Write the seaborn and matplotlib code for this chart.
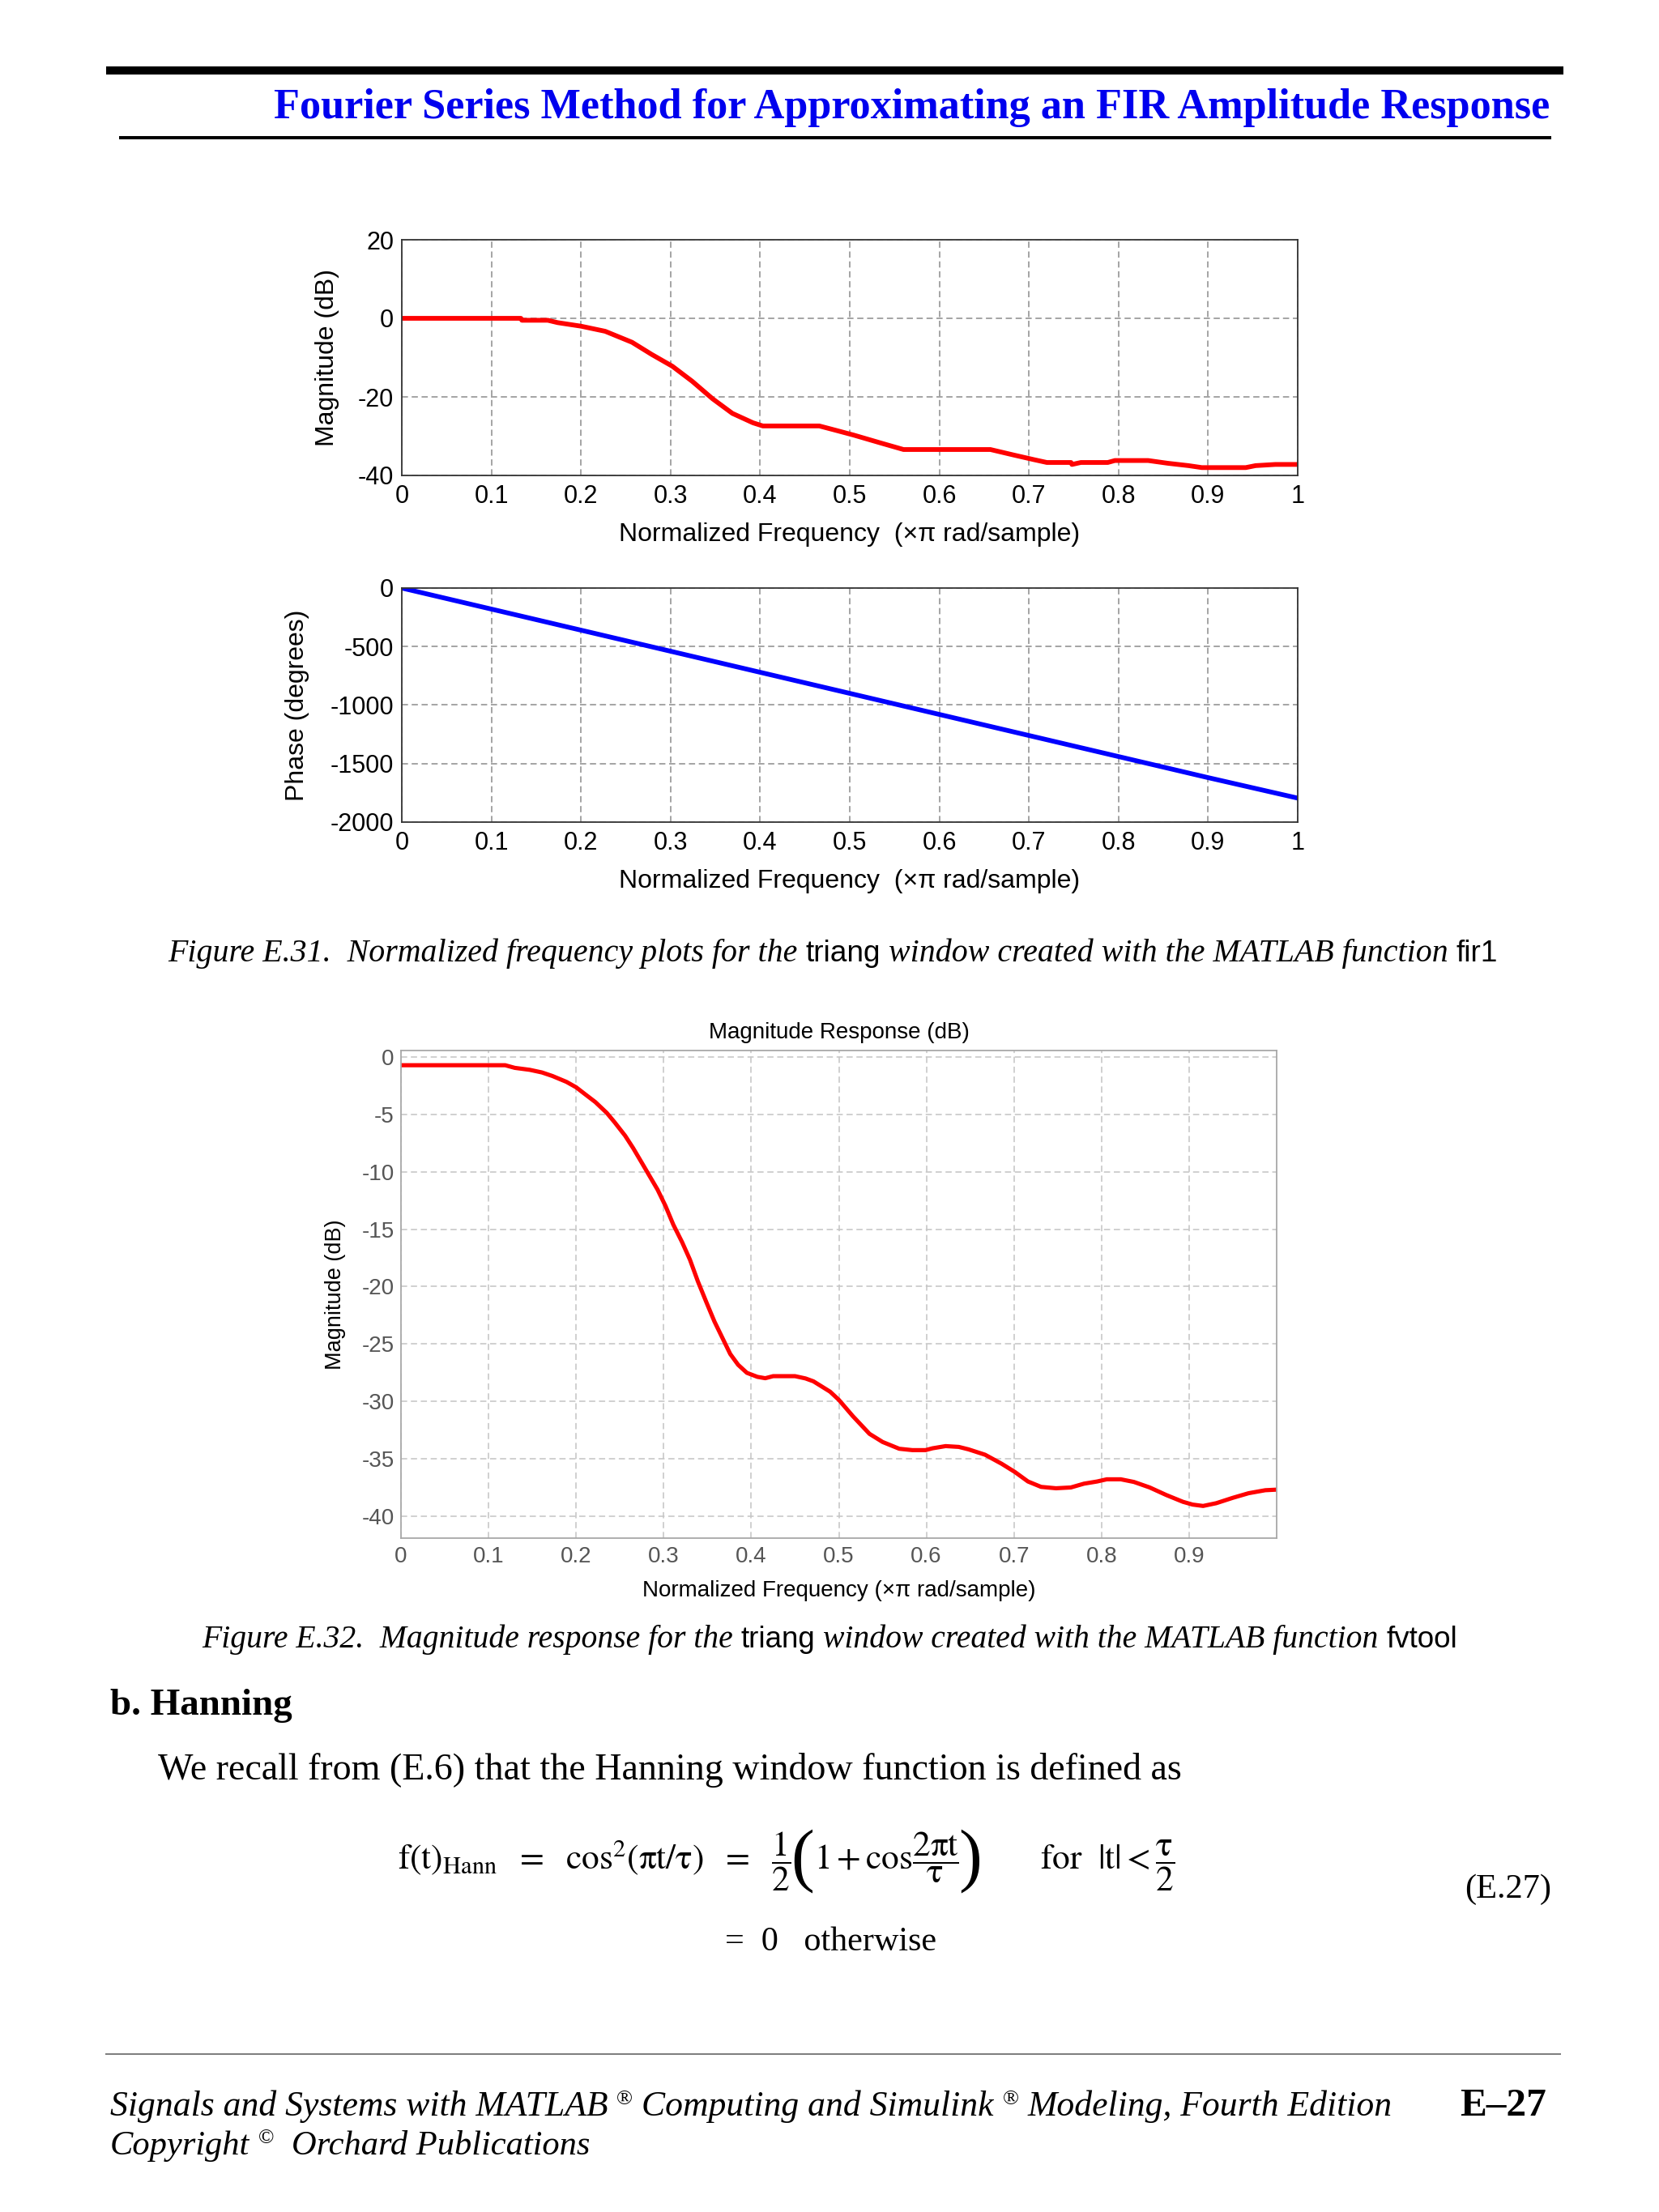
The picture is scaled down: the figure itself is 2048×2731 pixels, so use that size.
import matplotlib
matplotlib.use("Agg")
import matplotlib.pyplot as plt
from matplotlib.lines import Line2D
import numpy as np
import pandas as pd
import seaborn as sns

W, H = 2048, 2731

# ---------------- data ----------------
freq_ticks = [0, 0.1, 0.2, 0.3, 0.4, 0.5, 0.6, 0.7, 0.8, 0.9, 1.0]
freq_tick_labels = ["0", "0.1", "0.2", "0.3", "0.4", "0.5", "0.6", "0.7", "0.8", "0.9", "1"]

# Figure E.31 top: magnitude (dB)
mag1_freq = [0, 0.05, 0.10, 0.133, 0.134, 0.163, 0.174, 0.2, 0.227, 0.257, 0.279,
             0.302, 0.324, 0.347, 0.369, 0.392, 0.403, 0.466, 0.481, 0.504, 0.534,
             0.56, 0.657, 0.683, 0.706, 0.72, 0.747, 0.748, 0.758, 0.788, 0.796,
             0.833, 0.855, 0.878, 0.893, 0.942, 0.953, 0.975, 1.0]
mag1_db = [0, 0, 0, 0, -0.5, -0.5, -1.1, -2.0, -3.3, -6.1, -9.2,
           -12.2, -16.0, -20.5, -24.2, -26.6, -27.4, -27.4, -28.3, -29.7, -31.7,
           -33.4, -33.4, -34.8, -36.0, -36.7, -36.7, -37.2, -36.7, -36.7, -36.2,
           -36.2, -36.9, -37.5, -38.0, -38.0, -37.5, -37.2, -37.2]
mag1_yticks = [20, 0, -20, -40]
mag1_yticklabels = ["20", "0", "-20", "-40"]

# Figure E.31 bottom: phase (degrees)
phase_freq = [0, 0.1, 0.2, 0.3, 0.4, 0.5, 0.6, 0.7, 0.8, 0.9, 1.0]
phase_deg = [0, -180, -360, -540, -720, -900, -1080, -1260, -1440, -1620, -1795]
phase_yticks = [0, -500, -1000, -1500, -2000]
phase_yticklabels = ["0", "-500", "-1000", "-1500", "-2000"]

# Figure E.32: fvtool magnitude response (dB)
mag3_freq = [0, 0.05, 0.119, 0.130, 0.147, 0.161, 0.173, 0.189, 0.200, 0.210, 0.222,
             0.235, 0.244, 0.256, 0.265, 0.275, 0.284, 0.293, 0.302, 0.311, 0.321,
             0.330, 0.339, 0.349, 0.358, 0.367, 0.376, 0.385, 0.395, 0.407, 0.416,
             0.425, 0.450, 0.462, 0.471, 0.490, 0.500, 0.516, 0.535, 0.550, 0.569,
             0.584, 0.599, 0.607, 0.622, 0.637, 0.648, 0.667, 0.686, 0.701, 0.716,
             0.731, 0.748, 0.765, 0.780, 0.795, 0.806, 0.822, 0.837, 0.855, 0.874,
             0.893, 0.904, 0.916, 0.931, 0.950, 0.968, 0.987, 1.0]
mag3_db = [-0.73, -0.73, -0.73, -0.96, -1.13, -1.36, -1.67, -2.18, -2.65, -3.24, -3.94,
           -4.88, -5.70, -6.87, -7.93, -9.22, -10.39, -11.56, -12.97, -14.61, -16.13,
           -17.66, -19.54, -21.41, -23.05, -24.46, -25.87, -26.81, -27.51, -27.86, -27.98,
           -27.80, -27.80, -28.00, -28.25, -29.15, -29.86, -31.28, -32.82, -33.53, -34.12,
           -34.24, -34.24, -34.08, -33.89, -33.96, -34.17, -34.64, -35.43, -36.14, -36.97,
           -37.44, -37.56, -37.49, -37.16, -36.97, -36.78, -36.78, -37.01, -37.49, -38.15,
           -38.74, -38.98, -39.10, -38.86, -38.39, -37.99, -37.73, -37.68]
mag3_yticks = [0, -5, -10, -15, -20, -25, -30, -35, -40]
mag3_yticklabels = ["0", "-5", "-10", "-15", "-20", "-25", "-30", "-35", "-40"]
mag3_xticks = [0, 0.1, 0.2, 0.3, 0.4, 0.5, 0.6, 0.7, 0.8, 0.9]
mag3_xticklabels = ["0", "0.1", "0.2", "0.3", "0.4", "0.5", "0.6", "0.7", "0.8", "0.9"]

# ---------------- style ----------------
sns.set_theme(style="whitegrid")
plt.rcParams['font.family'] = ['Liberation Sans', 'DejaVu Sans']
plt.rcParams['axes.unicode_minus'] = False
plt.rcParams['mathtext.fontset'] = 'stix'

fig = plt.figure(figsize=(W / 100, H / 100), dpi=100)
fig.patch.set_facecolor('white')
renderer = fig.canvas.get_renderer()

SERIF = ['Liberation Serif', 'DejaVu Serif']
SANS = ['Liberation Sans', 'DejaVu Sans']


def fx(x):
    return x / W


def fy(y):
    return 1 - y / H


def hline(x0, x1, y, lw, color):
    fig.add_artist(Line2D([fx(x0), fx(x1)], [fy(y), fy(y)], transform=fig.transFigure,
                          color=color, linewidth=lw, solid_capstyle='butt'))


def text_w(s, fs, props):
    t = fig.text(0, 0, s, fontsize=fs, **props)
    w = t.get_window_extent(renderer).width
    t.remove()
    return w


def run_width(runs, scale):
    total = 0
    parts = []
    for s, props, size, dy in runs:
        fs = size * scale
        core = s.strip(' ')
        lead = len(s) - len(s.lstrip(' '))
        trail = len(s) - len(s.rstrip(' '))
        sp = text_w("x x", fs, props) - text_w("xx", fs, props)
        w = text_w(core, fs, props) if core else 0
        parts.append((core, props, fs, dy, lead * sp, w, trail * sp))
        total += lead * sp + w + trail * sp
    return total, parts


def place_runs(x0, base, runs, target_w):
    total, _ = run_width(runs, 1.0)
    scale = target_w / total
    total, parts = run_width(runs, scale)
    x = x0
    for core, props, fs, dy, lw_, w, tw_ in parts:
        x += lw_
        if core:
            fig.text(fx(x), fy(base - dy * fs * 100 / 72), core, fontsize=fs,
                     ha='left', va='baseline', **props)
        x += w + tw_


def style_axes(ax, xlim, ylim, xticks, xlabels, yticks, ylabels, grid_color,
               spine_color, tick_color, fs, xpad, ypad):
    ax.set_facecolor('white')
    ax.set_xlim(*xlim)
    ax.set_ylim(*ylim)
    ax.set_xticks(xticks)
    ax.set_xticklabels(xlabels)
    ax.set_yticks(yticks)
    ax.set_yticklabels(ylabels)
    ax.grid(True, color=grid_color, linestyle=(0, (5, 3)), linewidth=1.1)
    for s in ax.spines.values():
        s.set_visible(True)
        s.set_color(spine_color)
        s.set_linewidth(1.3)
    ax.tick_params(axis='both', length=0, labelsize=fs, labelcolor=tick_color)
    ax.tick_params(axis='x', pad=xpad)
    ax.tick_params(axis='y', pad=ypad)


# ---------------- header ----------------
hline(131, 1930, 87, 7.2, 'black')
hline(147, 1915, 170, 2.9, 'black')
place_runs(338, 146, [("Fourier Series Method for Approximating an FIR Amplitude Response",
                       dict(family=SERIF, weight='bold', color='#0000ee'), 36, 0)], 1577)

# ---------------- Figure E.31 ----------------
df1 = pd.DataFrame({"freq": mag1_freq, "db": mag1_db})
ax1 = fig.add_axes([fx(496), fy(587), (1602 - 496) / W, (587 - 296) / H])
sns.lineplot(data=df1, x="freq", y="db", ax=ax1, color='#ff0000', linewidth=4.2)
style_axes(ax1, (0, 1), (-40, 20), freq_ticks, freq_tick_labels, mag1_yticks, mag1_yticklabels,
           '#8c8c8c', '#333333', 'black', 22, 8, 7)
ax1.set_xlabel("Normalized Frequency  (\u00d7\u03c0 rad/sample)", fontsize=23, color='black')
ax1.set_ylabel("Magnitude (dB)", fontsize=23, color='black', va='center')
ax1.xaxis.set_label_coords(0.5, -(660 - 587) / 291)
ax1.xaxis.label.set_va('center')
ax1.yaxis.set_label_coords((404 - 496) / 1106, 0.5)

df2 = pd.DataFrame({"freq": phase_freq, "deg": phase_deg})
ax2 = fig.add_axes([fx(496), fy(1015), (1602 - 496) / W, (1015 - 726) / H])
sns.lineplot(data=df2, x="freq", y="deg", ax=ax2, color='#0000ff', linewidth=4.2)
style_axes(ax2, (0, 1), (-2000, 0), freq_ticks, freq_tick_labels, phase_yticks, phase_yticklabels,
           '#8c8c8c', '#333333', 'black', 22, 8, 7)
ax2.set_xlabel("Normalized Frequency  (\u00d7\u03c0 rad/sample)", fontsize=23, color='black')
ax2.set_ylabel("Phase (degrees)", fontsize=23, color='black', va='center')
ax2.xaxis.set_label_coords(0.5, -(1088 - 1015) / 289)
ax2.xaxis.label.set_va('center')
ax2.yaxis.set_label_coords((367 - 496) / 1106, 0.5)

italic = dict(family=SERIF, style='italic', color='black')
sans = dict(family=SANS, color='black')
place_runs(207, 1187, [
    ("Figure E.31.  Normalized frequency plots for the ", italic, 27, 0),
    ("triang", sans, 25, 0),
    (" window created with the MATLAB function ", italic, 27, 0),
    ("fir1", sans, 25, 0)], 1640)

# ---------------- Figure E.32 ----------------
df3 = pd.DataFrame({"freq": mag3_freq, "db": mag3_db})
ax3 = fig.add_axes([fx(495), fy(1899), (1576 - 495) / W, (1899 - 1297) / H])
sns.lineplot(data=df3, x="freq", y="db", ax=ax3, color='#ff0000', linewidth=3.7)
style_axes(ax3, (0, 1), (-41.9, 0.55), mag3_xticks, mag3_xticklabels, mag3_yticks, mag3_yticklabels,
           '#c4c4c4', '#a8a8a8', '#555555', 20, 7, 6)
ax3.set_title("Magnitude Response (dB)", fontsize=20, color='black', pad=11)
ax3.set_xlabel("Normalized Frequency (\u00d7\u03c0 rad/sample)", fontsize=20, color='black')
ax3.set_ylabel("Magnitude (dB)", fontsize=19.5, color='black', va='center')
ax3.xaxis.set_label_coords(0.5, -(1964 - 1899) / 602)
ax3.xaxis.label.set_va('center')
ax3.yaxis.set_label_coords((414 - 495) / 1081, 0.5)

place_runs(249, 2034, [
    ("Figure E.32.  Magnitude response for the ", italic, 27, 0),
    ("triang", sans, 25, 0),
    (" window created with the MATLAB function ", italic, 27, 0),
    ("fvtool", sans, 25, 0)], 1550)

# ---------------- text body ----------------
place_runs(136, 2117, [("b. Hanning", dict(family=SERIF, weight='bold', color='black'), 30, 0)], 225)
place_runs(195, 2197, [("We recall from (E.6) that the Hanning window function is defined as",
                        dict(family=SERIF, color='black'), 30, 0)], 1263)

mathp = dict(color='black')
parp = dict(family=SERIF, color='black', fontweight='light')
eq_runs = [
    (r"$\mathrm{f(t)_{Hann}}\ \ =\ \ \mathrm{cos}^{2}(\mathrm{\pi t}/\mathrm{\tau})\ \ =\ \ "
     r"\dfrac{1}{2}$", mathp, 30, 0),
    ("(", parp, 60, -0.12),
    (r"$1+\mathrm{cos}\dfrac{2\mathrm{\pi t}}{\mathrm{\tau}}$", mathp, 30, 0),
    (")", parp, 60, -0.12),
    ("      " + r"$\mathrm{for}\ \ |\mathrm{t}|<\dfrac{\mathrm{\tau}}{2}$", mathp, 30, 0),
]
place_runs(491, 2308, eq_runs, 961)

place_runs(1808, 2343, [("(E.27)", dict(family=SERIF, color='black'), 30, 0)], 107)
place_runs(895, 2408, [("=  0   otherwise", dict(family=SERIF, color='black'), 30, 0)], 261)

# ---------------- footer ----------------
hline(130, 1927, 2536, 1.2, '#666666')
reg = dict(family=SERIF, color='black')
place_runs(136, 2612, [
    ("Signals and Systems with MATLAB ", italic, 30, 0),
    ("\u00ae", reg, 18, 0.55),
    (" Computing and Simulink ", italic, 30, 0),
    ("\u00ae", reg, 18, 0.55),
    (" Modeling, Fourth Edition", italic, 30, 0)], 1583)
place_runs(136, 2660, [
    ("Copyright ", italic, 30, 0),
    ("\u00a9", reg, 18, 0.55),
    ("  Orchard Publications", italic, 30, 0)], 593)
place_runs(1802, 2612, [("E\u201327", dict(family=SERIF, weight='bold', color='black'), 32, 0)], 107)

fig.savefig("out.png", dpi=100, facecolor='white')
